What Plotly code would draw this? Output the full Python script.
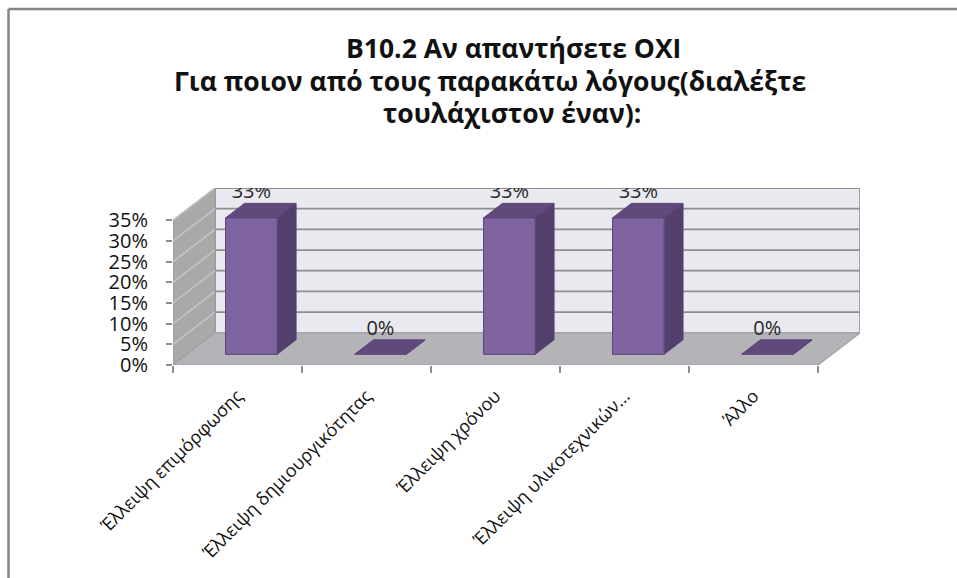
import plotly.graph_objects as go

# ---------------- data ----------------
categories = ["Έλλειψη επιμόρφωσης", "Έλλειψη δημιουργικότητας", "Έλλειψη χρόνου",
              "Έλλειψη υλικοτεχνικών...", "Άλλο"]
values = [0.33, 0.0, 0.33, 0.33, 0.0]
y_ticks = [0.0, 0.05, 0.10, 0.15, 0.20, 0.25, 0.30, 0.35]
y_ticktext = ["0%", "5%", "10%", "15%", "20%", "25%", "30%", "35%"]
title_lines = ["B10.2 Αν απαντήσετε ΟΧΙ",
               "Για ποιον από τους παρακάτω λόγους(διαλέξτε",
               "τουλάχιστον έναν):"]

# ---------------- style / geometry ----------------
W, H = 957, 578
FONT = "Open Sans"
YMAX = 0.35
DX, DY = 0.326, 0.078          # depth of the 3D box in data units
F0, F1 = 0.33, 0.78            # bar depth (front / back fraction)
BW = 0.40                      # bar width
n = len(categories)
XMIN, XMAX = -0.5, n - 0.5 + DX
YTOP = YMAX + DY

ML, MR = 173, W - 860
PX_PER_Y = 145 / YMAX
MB = H - 365
MT = int(round(365 - YTOP * PX_PER_Y))
PW, PH = W - ML - MR, H - MT - MB

def px_x(p):
    return (p - ML) / PW

def px_y(p):
    return (H - MB - p) / PH

WALL_BACK = "#ebe9f0"
WALL_LEFT = "#a9a9aa"
FLOOR = "#b4b3b8"
GRID = "#8e8e8e"
GRID_LEFT = "#c4c4c4"
FRONT = "#8064a2"
SIDE = "#523f6c"
TOP = "#604a7c"
EDGE = "#5a4678"

fig = go.Figure()

def poly(xs, ys, fill, line_color, width=1, layer_axis="x"):
    fig.add_trace(go.Scatter(x=xs, y=ys, mode="lines", fill="toself",
                             fillcolor=fill, line=dict(color=line_color, width=width),
                             hoverinfo="skip", xaxis=layer_axis))

# back wall
poly([XMIN + DX, XMAX, XMAX, XMIN + DX, XMIN + DX],
     [DY, DY, YTOP, YTOP, DY], WALL_BACK, GRID, 1.5)
# left wall
poly([XMIN, XMIN + DX, XMIN + DX, XMIN, XMIN],
     [0, DY, YTOP, YMAX, 0], WALL_LEFT, "#9a9a9a", 1.2)

# gridlines on back and left wall
gx, gy, lx, ly = [], [], [], []
for v in y_ticks[1:]:
    gx += [XMIN + DX, XMAX, None]
    gy += [v + DY, v + DY, None]
    lx += [XMIN, XMIN + DX, None]
    ly += [v, v + DY, None]
fig.add_trace(go.Scatter(x=lx, y=ly, mode="lines", line=dict(color=GRID_LEFT, width=1.5),
                         hoverinfo="skip"))
fig.add_trace(go.Scatter(x=gx, y=gy, mode="lines", line=dict(color=GRID, width=1.8),
                         hoverinfo="skip"))

# floor
poly([XMIN, n - 0.5, XMAX, XMIN + DX, XMIN],
     [0, 0, DY, DY, 0], FLOOR, "#a4a4a8", 1.5)

# bars
sx, sy, tx, ty, fx, fy = [], [], [], [], [], []
for i, v in enumerate(values):
    x0 = i - BW / 2 + F0 * DX
    x1 = i + BW / 2 + F0 * DX
    y0 = F0 * DY
    ddx = (F1 - F0) * DX
    ddy = (F1 - F0) * DY
    sx += [x1, x1 + ddx, x1 + ddx, x1, x1, None]
    sy += [y0, y0 + ddy, y0 + ddy + v, y0 + v, y0, None]
    tx += [x0, x1, x1 + ddx, x0 + ddx, x0, None]
    ty += [y0 + v, y0 + v, y0 + v + ddy, y0 + v + ddy, y0 + v, None]
    if v > 0:
        fx += [x0, x1, x1, x0, x0, None]
        fy += [y0, y0, y0 + v, y0 + v, y0, None]

poly(sx, sy, SIDE, EDGE, 1)
poly(tx, ty, TOP, EDGE, 1)
poly(fx, fy, FRONT, EDGE, 1)

# data labels
lab_x = [i + F0 * DX for i in range(n)]
lab_y = [v + F1 * DY for v in values]
fig.add_trace(go.Scatter(x=lab_x, y=lab_y, mode="text",
                         text=[f"{round(v * 100)}%" for v in values],
                         textposition="top center",
                         textfont=dict(family=FONT, size=20, color="#262626"),
                         hoverinfo="skip", xaxis="x2"))

# titles
title_y = [48, 81, 113]
title_x = [513, 490, 512]
for t, yy, xx in zip(title_lines, title_y, title_x):
    fig.add_annotation(text=f"<b>{t}</b>", xref="paper", yref="paper",
                       x=px_x(xx), y=px_y(yy), xanchor="center", yanchor="middle",
                       showarrow=False, font=dict(family=FONT, size=26.5, color="#111111"))

# outer frame (only left and top edges are visible in the crop)
frame = dict(color="#868686", width=2.5)
fig.add_shape(type="line", xref="paper", yref="paper",
              x0=px_x(8.5), x1=px_x(8.5), y0=px_y(H + 5), y1=px_y(9), line=frame)
fig.add_shape(type="line", xref="paper", yref="paper",
              x0=px_x(8.5), x1=px_x(W + 5), y0=px_y(9), y1=px_y(9), line=frame)

fig.update_layout(
    width=W, height=H, autosize=False,
    margin=dict(l=ML, r=MR, t=MT, b=MB, pad=0),
    paper_bgcolor="white", plot_bgcolor="white",
    showlegend=False,
    xaxis=dict(range=[XMIN, XMAX], tickmode="array", tickvals=list(range(n)),
               ticktext=categories, tickangle=-45, ticks="", showgrid=False,
               zeroline=False, showline=False, ticklabelstandoff=16,
               tickfont=dict(family=FONT, size=18, color="#111111")),
    xaxis2=dict(range=[XMIN, XMAX], overlaying="x", anchor="y", side="bottom",
                tickmode="array", tickvals=[i - 0.5 for i in range(n + 1)],
                ticks="outside", ticklen=7, tickwidth=1.5, tickcolor="#8e8e8e",
                showticklabels=False, showgrid=False, zeroline=False, showline=False),
    yaxis=dict(range=[0, YTOP], tickmode="array", tickvals=y_ticks, ticktext=y_ticktext,
               ticks="outside", ticklen=6, tickwidth=1.5, tickcolor="#8e8e8e",
               showgrid=False, zeroline=False, showline=False, ticklabelstandoff=14,
               tickfont=dict(family=FONT, size=20, color="#111111")),
)

fig.write_html("out.html")
